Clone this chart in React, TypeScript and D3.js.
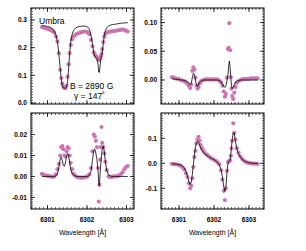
import * as d3 from "d3";

// wavelengths of the samples, right-hand panels (Q, V)
const wave = [
  6300.8, 6300.85, 6300.9, 6300.95, 6301.0, 6301.05, 6301.1, 6301.15, 6301.2, 6301.24,
  6301.28, 6301.32, 6301.35, 6301.38, 6301.41, 6301.44, 6301.47, 6301.5, 6301.53, 6301.56,
  6301.59, 6301.62, 6301.66, 6301.7, 6301.75, 6301.8, 6301.85, 6301.9, 6301.95, 6302.0,
  6302.05, 6302.1, 6302.15, 6302.2, 6302.24, 6302.28, 6302.31, 6302.34, 6302.37, 6302.4,
  6302.42, 6302.44, 6302.46, 6302.48, 6302.5, 6302.52, 6302.55, 6302.58, 6302.61, 6302.65,
  6302.7, 6302.75, 6302.8, 6302.85, 6302.9, 6302.95, 6303.0, 6303.05, 6303.1, 6303.15,
  6303.2, 6303.25,
];
// same samples as read against the left-hand axes (I, U)
const waveLeft = [
  6300.861, 6300.905, 6300.949, 6300.994, 6301.038, 6301.082, 6301.127, 6301.171, 6301.215, 6301.251,
  6301.286, 6301.322, 6301.348, 6301.375, 6301.401, 6301.428, 6301.454, 6301.481, 6301.508, 6301.534,
  6301.561, 6301.587, 6301.623, 6301.658, 6301.703, 6301.747, 6301.791, 6301.836, 6301.88, 6301.924,
  6301.968, 6302.013, 6302.057, 6302.101, 6302.137, 6302.172, 6302.199, 6302.225, 6302.252, 6302.279,
  6302.296, 6302.314, 6302.332, 6302.349, 6302.367, 6302.385, 6302.412, 6302.438, 6302.465, 6302.5,
  6302.544, 6302.589, 6302.633, 6302.677, 6302.722, 6302.766, 6302.81, 6302.855, 6302.899, 6302.943,
  6302.987, 6303.032,
];

// Stokes I
const iObs = [
  0.274, 0.272, 0.27, 0.268, 0.266, 0.264, 0.259, 0.254, 0.24, 0.222,
  0.18, 0.12, 0.09, 0.07, 0.058, 0.054, 0.053, 0.062, 0.095, 0.14,
  0.18, 0.21, 0.23, 0.24, 0.246, 0.25, 0.252, 0.255, 0.257, 0.258,
  0.258, 0.256, 0.248, 0.228, 0.205, 0.183, 0.175, 0.17, 0.165, 0.158,
  0.156, 0.158, 0.162, 0.168, 0.178, 0.195, 0.22, 0.24, 0.25, 0.255,
  0.257, 0.258, 0.259, 0.26, 0.261, 0.262, 0.263, 0.264, 0.266, 0.264,
  0.261, 0.258,
];
const iFit = [
  0.28, 0.279, 0.278, 0.277, 0.275, 0.273, 0.268, 0.26, 0.245, 0.222,
  0.18, 0.125, 0.085, 0.062, 0.055, 0.054, 0.054, 0.056, 0.075, 0.125,
  0.18, 0.22, 0.248, 0.262, 0.27, 0.274, 0.276, 0.277, 0.278, 0.278,
  0.277, 0.275, 0.268, 0.245, 0.215, 0.18, 0.168, 0.165, 0.16, 0.14,
  0.112, 0.11, 0.135, 0.16, 0.168, 0.18, 0.215, 0.245, 0.262, 0.272,
  0.278, 0.281, 0.283, 0.284, 0.285, 0.286, 0.287, 0.288, 0.289, 0.289,
  0.29, 0.29,
];

// Stokes Q
const qObs = [
  0.005, 0.004, 0.003, 0.002, 0.001, 0.0, -0.001, -0.002, -0.004, -0.007,
  -0.01, -0.014, -0.008, 0.016, 0.022, 0.018, 0.004, -0.01, -0.015, -0.012,
  -0.006, -0.003, -0.001, 0.0, 0.001, 0.001, 0.001, 0.001, 0.001, 0.001,
  0.001, 0.001, -0.001, -0.004, -0.01, -0.02, -0.029, -0.024, 0.004, 0.054,
  0.056, 0.099, 0.052, 0.005, -0.015, -0.028, -0.033, -0.022, -0.012, -0.005,
  -0.002, 0.0, 0.001, 0.002, 0.002, 0.002, 0.002, 0.003, 0.003, 0.003,
  0.003, 0.003,
];
const qFit = [
  0.002, 0.002, 0.001, 0.001, 0.001, 0.0, 0.0, -0.001, -0.002, -0.003,
  -0.005, -0.008, -0.006, 0.004, 0.012, 0.01, 0.0, -0.009, -0.011, -0.007,
  -0.004, -0.002, -0.001, 0.0, 0.0, 0.0, 0.0, 0.0, 0.0, 0.0,
  0.0, 0.0, -0.001, -0.003, -0.007, -0.011, -0.013, -0.01, -0.002, 0.01,
  0.025, 0.033, 0.022, 0.004, -0.01, -0.015, -0.013, -0.008, -0.004, -0.002,
  -0.001, 0.0, 0.0, 0.0, 0.0, 0.0, 0.0, 0.0, 0.0, 0.0,
  0.0, 0.0,
];

// Stokes U
const uObs = [
  0.0012, 0.0008, 0.0005, 0.0003, 0.0002, 0.0, -0.0002, 0.0, 0.001, 0.0035,
  0.006, 0.01, 0.014, 0.0145, 0.013, 0.01, 0.0095, 0.012, 0.014, 0.0135,
  0.01, 0.0065, 0.0035, 0.0012, 0.0003, -0.0003, -0.0005, -0.0006, -0.0006, -0.0005,
  -0.0003, 0.0, 0.001, 0.004, 0.012, 0.02, 0.019, 0.017, 0.014, 0.004,
  -0.012, -0.004, 0.008, 0.014, 0.0236, 0.016, 0.014, 0.011, 0.007, 0.003,
  0.0, -0.0003, -0.0002, 0.0, 0.0, 0.0002, 0.0005, 0.001, 0.002, 0.0035,
  0.0045, 0.005,
];
const uFit = [
  0.0, 0.0, 0.0, 0.0, 0.0, 0.0, 0.0, 0.0, 0.0003, 0.0012,
  0.004, 0.0085, 0.0092, 0.0075, 0.0052, 0.0048, 0.0065, 0.0095, 0.011, 0.01,
  0.0065, 0.0035, 0.0015, 0.0006, 0.0002, 0.0, 0.0, 0.0, 0.0, 0.0,
  0.0, 0.0, 0.0005, 0.0025, 0.0075, 0.0125, 0.013, 0.011, 0.008, 0.003,
  -0.003, -0.0045, 0.001, 0.006, 0.01, 0.013, 0.0145, 0.012, 0.007, 0.003,
  0.0008, 0.0002, 0.0, 0.0, 0.0, 0.0, 0.0, 0.0, 0.0, 0.0,
  0.0, 0.0,
];

// Stokes V
const vObs = [
  -0.002, -0.003, -0.004, -0.005, -0.007, -0.01, -0.016, -0.025, -0.04, -0.055,
  -0.08, -0.1, -0.09, -0.06, -0.015, 0.025, 0.05, 0.08, 0.095, 0.106,
  0.09, 0.073, 0.06, 0.05, 0.04, 0.034, 0.028, 0.022, 0.018, 0.014,
  0.01, 0.004, -0.004, -0.028, -0.065, -0.11, -0.147, -0.1, -0.03, 0.005,
  0.008, 0.01, 0.012, 0.03, 0.06, 0.09, 0.16, 0.122, 0.095, 0.06,
  0.042, 0.028, 0.018, 0.011, 0.006, 0.003, 0.001, 0.0, -0.001, -0.001,
  -0.002, -0.002,
];
const vFit = [
  -0.002, -0.002, -0.003, -0.004, -0.005, -0.007, -0.011, -0.018, -0.032, -0.05,
  -0.072, -0.085, -0.075, -0.045, -0.005, 0.035, 0.065, 0.082, 0.088, 0.084,
  0.072, 0.06, 0.05, 0.042, 0.035, 0.03, 0.026, 0.022, 0.018, 0.014,
  0.01, 0.004, -0.006, -0.025, -0.055, -0.095, -0.112, -0.095, -0.04, 0.0,
  0.005, 0.008, 0.015, 0.035, 0.065, 0.095, 0.122, 0.12, 0.09, 0.06,
  0.038, 0.025, 0.017, 0.011, 0.007, 0.004, 0.002, 0.001, 0.0, 0.0,
  0.0, 0.0,
];

const waveTicks = [6301, 6302, 6303];
const iTicks = [0, 0.1, 0.2, 0.3];
const iLabels = ["0.0", "0.1", "0.2", "0.3"];
const qTicks = [0, 0.05, 0.1];
const qLabels = ["0.00", "0.05", "0.10"];
const uTicks = [-0.01, 0, 0.01, 0.02];
const uLabels = ["-0.01", "0.00", "0.01", "0.02"];
const vTicks = [-0.1, 0, 0.1];
const vLabels = ["-0.1", "0.0", "0.1"];

const PW = 103;
const PH = 96;
const pink = "#d47ab6";
const font = "Liberation Sans, Arial, sans-serif";

// x domains of the two columns
const leftX: [number, number] = [6300.5823, 6303.1899];
const rightX: [number, number] = [6300.4857, 6303.4286];

type PanelProps = {
  id: string;
  left: number;
  top: number;
  xDomain: [number, number];
  yDomain: [number, number];
  waves: number[];
  obs: number[];
  fit: number[];
  ticks: number[];
  labels: string[];
  minor: number;
  xLabels?: boolean;
};

function Panel({ id, left, top, xDomain, yDomain, waves, obs, fit, ticks, labels, minor, xLabels }: PanelProps) {
  const x = d3.scaleLinear().domain(xDomain).range([0, PW]);
  const y = d3.scaleLinear().domain(yDomain).range([PH, 0]);
  const line = d3
    .line<number>()
    .x((_, i) => x(waves[i]))
    .y((d) => y(d));

  const xMinor = d3.range(6300.5, 6303.45, 0.1).filter((v) => x(v) > 0.5 && x(v) < PW - 0.5);
  const yMinor = d3
    .range(Math.ceil(yDomain[0] / minor) * minor, yDomain[1], minor)
    .filter((v) => y(v) > 0.5 && y(v) < PH - 0.5);

  return (
    <g transform={`translate(${left},${top})`}>
      <defs>
        <clipPath id={id}>
          <rect x={0} y={0} width={PW} height={PH} />
        </clipPath>
      </defs>
      <g clipPath={`url(#${id})`}>
        {obs.map((d, i) => (
          <circle key={i} cx={x(waves[i])} cy={y(d)} r={2.1} fill={pink} />
        ))}
        <path d={line(fit) ?? ""} fill="none" stroke="#000" strokeWidth={0.8} />
        {obs.map((d, i) => (
          <circle key={"c" + i} cx={x(waves[i])} cy={y(d)} r={0.45} fill="#444" fillOpacity={0.7} />
        ))}
      </g>
      {xMinor.map((v) => (
        <g key={"xm" + v}>
          <line x1={x(v)} x2={x(v)} y1={PH} y2={PH - 2} stroke="#000" strokeWidth={0.6} />
          <line x1={x(v)} x2={x(v)} y1={0} y2={2} stroke="#000" strokeWidth={0.6} />
        </g>
      ))}
      {waveTicks.map((v) => (
        <g key={"xM" + v}>
          <line x1={x(v)} x2={x(v)} y1={PH} y2={PH - 4} stroke="#000" strokeWidth={0.8} />
          <line x1={x(v)} x2={x(v)} y1={0} y2={4} stroke="#000" strokeWidth={0.8} />
          {xLabels && (
            <text x={x(v)} y={PH + 13} textAnchor="middle" fontSize={6.5} fontFamily={font} fontWeight="bold">
              {v}
            </text>
          )}
        </g>
      ))}
      {yMinor.map((v) => (
        <g key={"ym" + v}>
          <line x1={0} x2={2} y1={y(v)} y2={y(v)} stroke="#000" strokeWidth={0.6} />
          <line x1={PW} x2={PW - 2} y1={y(v)} y2={y(v)} stroke="#000" strokeWidth={0.6} />
        </g>
      ))}
      {ticks.map((v, i) => (
        <g key={"yM" + v}>
          <line x1={0} x2={4} y1={y(v)} y2={y(v)} stroke="#000" strokeWidth={0.8} />
          <line x1={PW} x2={PW - 4} y1={y(v)} y2={y(v)} stroke="#000" strokeWidth={0.8} />
          <text x={-4} y={y(v) + 2.3} textAnchor="end" fontSize={6.5} fontFamily={font} fontWeight="bold">
            {labels[i]}
          </text>
        </g>
      ))}
      <rect x={0} y={0} width={PW} height={PH} fill="none" stroke="#000" strokeWidth={1} />
      {xLabels && (
        <text x={PW / 2} y={PH + 26} textAnchor="middle" fontSize={7} fontFamily={font}>
          Wavelength [Å]
        </text>
      )}
    </g>
  );
}

export default function App() {
  return (
    <svg width={306} height={251} style={{ position: "absolute", left: 0, top: 0, background: "#fff" }}>
      <Panel id="pI" left={31} top={8} xDomain={leftX} yDomain={[-0.0036, 0.3433]} waves={waveLeft} obs={iObs} fit={iFit} ticks={iTicks} labels={iLabels} minor={0.01} />
      <Panel id="pQ" left={161} top={8} xDomain={rightX} yDomain={[-0.0418, 0.1254]} waves={wave} obs={qObs} fit={qFit} ticks={qTicks} labels={qLabels} minor={0.005} />
      <Panel id="pU" left={31} top={113} xDomain={leftX} yDomain={[-0.01553, 0.03029]} waves={waveLeft} obs={uObs} fit={uFit} ticks={uTicks} labels={uLabels} minor={0.001} xLabels />
      <Panel id="pV" left={161} top={113} xDomain={rightX} yDomain={[-0.1828, 0.2012]} waves={wave} obs={vObs} fit={vFit} ticks={vTicks} labels={vLabels} minor={0.01} xLabels />
      <text x={39} y={24} fontSize={8.5} fontFamily={font}>Umbra</text>
      <text x={70} y={89} fontSize={8.5} fontFamily={font}>B = 2890 G</text>
      <text x={74} y={99} fontSize={8.5} fontFamily={font}>γ = 147˚</text>
    </svg>
  );
}
